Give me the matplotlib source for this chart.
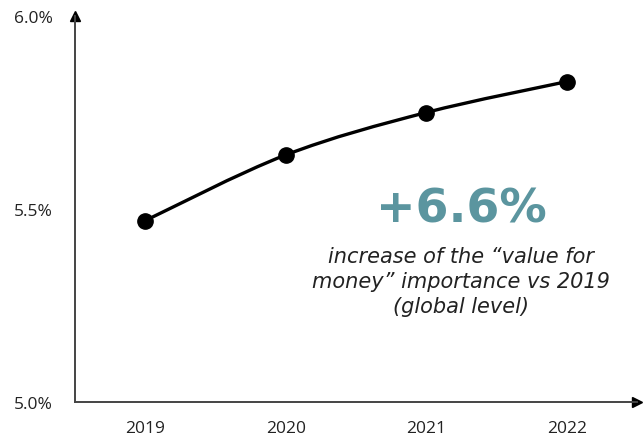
import matplotlib.pyplot as plt
import numpy as np
from matplotlib.path import Path
from matplotlib.patches import PathPatch

# valeurs
years = [2019, 2020, 2021, 2022]
share = [5.47, 5.64, 5.75, 5.83]
y_ticks = [5.0, 5.5, 6.0]

big_label = "+6.6%"
note = "increase of the \u201cvalue for\nmoney\u201d importance vs 2019\n(global level)"

plt.rcParams['font.family'] = ['Open Sans', 'DejaVu Sans']

fig = plt.figure(figsize=(6.44, 4.39), dpi=100)
ax = fig.add_axes([75 / 644, 36 / 439, 562 / 644, 386 / 439])

# courbe lissée (Catmull-Rom -> Bezier) passant par les points
x = np.array(years, dtype=float)
y = np.array(share)
verts = [(x[0], y[0])]
codes = [Path.MOVETO]
for i in range(len(x) - 1):
    x0, y0 = (x[i - 1], y[i - 1]) if i > 0 else (x[i], y[i])
    x3, y3 = (x[i + 2], y[i + 2]) if i + 2 < len(x) else (x[i + 1], y[i + 1])
    c1 = (x[i] + (x[i + 1] - x0) / 6, y[i] + (y[i + 1] - y0) / 6)
    c2 = (x[i + 1] - (x3 - x[i]) / 6, y[i + 1] - (y3 - y[i]) / 6)
    verts += [c1, c2, (x[i + 1], y[i + 1])]
    codes += [Path.CURVE4] * 3
ax.add_patch(PathPatch(Path(verts, codes), fill=False, lw=2.4, color='black', zorder=2))
ax.plot(years, share, 'o', color='black', markersize=11, zorder=3)

ax.set_xlim(2018.5, 2022.5)
ax.set_ylim(5.0, 6.0)
ax.set_xticks(years)
ax.set_xticklabels([str(a) for a in years])
ax.set_yticks(y_ticks)
ax.set_yticklabels(['%.1f%%' % v for v in y_ticks])
ax.tick_params(length=0, labelsize=12.5, colors='#222222')
ax.tick_params(axis='x', pad=13)
ax.tick_params(axis='y', pad=16)

for s in ['top', 'right']:
    ax.spines[s].set_visible(False)
for s in ['left', 'bottom']:
    ax.spines[s].set_color('#444444')
    ax.spines[s].set_linewidth(1.4)

# flèches au bout des axes
ax.plot(0, 1, '^', color='black', markersize=6.5, transform=ax.transAxes, clip_on=False)
ax.plot(1, 0, '>', color='black', markersize=6.5, transform=ax.transAxes, clip_on=False)

ax.text(2021.25, 5.5, big_label, ha='center', va='center', fontsize=34,
        fontweight='bold', color='#5B959F', family='DejaVu Sans')
ax.text(2021.25, 5.314, note, ha='center', va='center', fontsize=15,
        style='italic', color='#222222', linespacing=1.3, multialignment='center',
        family='DejaVu Sans')

plt.savefig('out.png', dpi=100)
